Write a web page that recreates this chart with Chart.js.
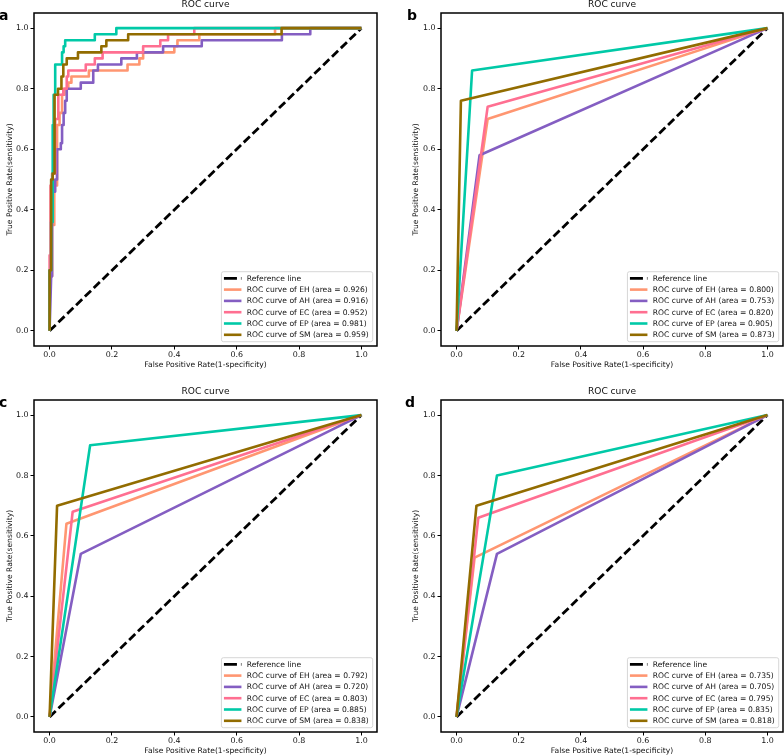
<!DOCTYPE html>
<html>
<head>
<meta charset="utf-8">
<title>ROC curves</title>
<script src="https://cdn.jsdelivr.net/npm/chart.js@4.4.3/dist/chart.umd.min.js"></script>
<style>
  html, body { margin: 0; padding: 0; background: #fff; }
  body { position: relative; width: 784px; height: 756px; overflow: hidden; }
  canvas { position: absolute; }
</style>
</head>
<body>
<canvas id="roc-a" width="392" height="378" style="left:0;top:0"></canvas>
<canvas id="roc-b" width="392" height="378" style="left:392px;top:0"></canvas>
<canvas id="roc-c" width="392" height="378" style="left:0;top:378px"></canvas>
<canvas id="roc-d" width="392" height="378" style="left:392px;top:378px"></canvas>
<script>
const SERIES_NAMES = ["EH", "AH", "EC", "EP", "SM"];
const AXIS_TICKS = [0, 0.2, 0.4, 0.6, 0.8, 1.0];
const REFERENCE_FPR = [0, 1];
const REFERENCE_TPR = [0, 1];
const CHART_TITLE = "ROC curve";
const X_TITLE = "False Positive Rate(1-specificity)";
const Y_TITLE = "True Positive Rate(sensitivity)";

// panel a: step curves
const A_EH_FPR = [0, 0, 0.008, 0.008, 0.015, 0.015, 0.024, 0.024, 0.032, 0.032, 0.04, 0.04, 0.048, 0.048, 0.06, 0.06, 0.07, 0.07, 0.126, 0.126, 0.25, 0.25, 0.288, 0.288, 0.3, 0.3, 0.4, 0.4, 0.41, 0.41, 0.48, 0.48, 0.723, 0.723, 1];
const A_EH_TPR = [0, 0.18, 0.18, 0.35, 0.35, 0.48, 0.48, 0.68, 0.68, 0.72, 0.72, 0.78, 0.78, 0.8, 0.8, 0.82, 0.82, 0.84, 0.84, 0.86, 0.86, 0.88, 0.88, 0.9, 0.9, 0.92, 0.92, 0.94, 0.94, 0.96, 0.96, 0.98, 0.98, 1, 1];
const A_AH_FPR = [0, 0.005, 0.008, 0.008, 0.018, 0.018, 0.024, 0.024, 0.036, 0.036, 0.04, 0.04, 0.045, 0.045, 0.05, 0.05, 0.055, 0.055, 0.1, 0.1, 0.14, 0.14, 0.155, 0.155, 0.23, 0.23, 0.28, 0.28, 0.364, 0.364, 0.488, 0.488, 0.745, 0.745, 0.836, 0.836, 1];
const A_AH_TPR = [0, 0.18, 0.18, 0.46, 0.46, 0.5, 0.5, 0.6, 0.6, 0.62, 0.62, 0.68, 0.68, 0.72, 0.72, 0.76, 0.76, 0.8, 0.8, 0.82, 0.82, 0.86, 0.86, 0.88, 0.88, 0.9, 0.9, 0.92, 0.92, 0.94, 0.94, 0.96, 0.96, 0.98, 0.98, 1, 1];
const A_EC_FPR = [0, 0, 0.003, 0.003, 0.008, 0.008, 0.018, 0.018, 0.028, 0.028, 0.044, 0.044, 0.055, 0.055, 0.06, 0.06, 0.116, 0.116, 0.145, 0.145, 0.17, 0.17, 0.3, 0.3, 0.355, 0.355, 0.38, 0.38, 0.464, 0.464, 1];
const A_EC_TPR = [0, 0.25, 0.25, 0.48, 0.48, 0.52, 0.52, 0.7, 0.7, 0.78, 0.78, 0.8, 0.8, 0.84, 0.84, 0.86, 0.86, 0.88, 0.88, 0.9, 0.9, 0.92, 0.92, 0.94, 0.94, 0.96, 0.96, 0.98, 0.98, 1, 1];
const A_EP_FPR = [0, 0, 0.005, 0.005, 0.01, 0.01, 0.013, 0.013, 0.018, 0.018, 0.04, 0.04, 0.045, 0.045, 0.05, 0.05, 0.145, 0.145, 0.214, 0.214, 1];
const A_EP_TPR = [0, 0.2, 0.2, 0.36, 0.36, 0.68, 0.68, 0.78, 0.78, 0.88, 0.88, 0.92, 0.92, 0.94, 0.94, 0.96, 0.96, 0.98, 0.98, 1, 1];
const A_SM_FPR = [0, 0, 0.005, 0.005, 0.01, 0.01, 0.016, 0.016, 0.027, 0.027, 0.038, 0.038, 0.044, 0.044, 0.055, 0.055, 0.091, 0.091, 0.166, 0.166, 0.182, 0.182, 0.252, 0.252, 0.744, 0.744, 1];
const A_SM_TPR = [0, 0.2, 0.2, 0.5, 0.5, 0.52, 0.52, 0.78, 0.78, 0.8, 0.8, 0.84, 0.84, 0.88, 0.88, 0.9, 0.9, 0.92, 0.92, 0.94, 0.94, 0.96, 0.96, 0.98, 0.98, 1, 1];
const A_AREAS = [0.926, 0.916, 0.952, 0.981, 0.959];

// panels b, c, d: one operating point per model (EH, AH, EC, EP, SM)
const B_FPR = [[0, 0.1, 1], [0, 0.074, 1], [0, 0.1, 1], [0, 0.05, 1], [0, 0.014, 1]];
const B_TPR = [[0, 0.7, 1], [0, 0.58, 1], [0, 0.74, 1], [0, 0.86, 1], [0, 0.76, 1]];
const B_AREAS = [0.800, 0.753, 0.820, 0.905, 0.873];

const C_FPR = [[0, 0.054, 1], [0, 0.1, 1], [0, 0.074, 1], [0, 0.13, 1], [0, 0.024, 1]];
const C_TPR = [[0, 0.64, 1], [0, 0.54, 1], [0, 0.68, 1], [0, 0.9, 1], [0, 0.7, 1]];
const C_AREAS = [0.792, 0.720, 0.803, 0.885, 0.838];

const D_FPR = [[0, 0.058, 1], [0, 0.13, 1], [0, 0.07, 1], [0, 0.13, 1], [0, 0.064, 1]];
const D_TPR = [[0, 0.528, 1], [0, 0.54, 1], [0, 0.66, 1], [0, 0.8, 1], [0, 0.7, 1]];
const D_AREAS = [0.735, 0.705, 0.795, 0.835, 0.818];

const SERIES_COLORS = ["#FF9671", "#845EC2", "#FF6F91", "#00C9A7", "#926C00"];
const FONT_FAMILY = '"DejaVu Sans", sans-serif';
const LABEL_FONT = { family: FONT_FAMILY, size: 7.6 };
const TICK_FONT = { family: FONT_FAMILY, size: 7.9 };

const panels = [
  {
    canvasId: "roc-a", letter: "a", letterX: -1, letterY: 20,
    fpr: [A_EH_FPR, A_AH_FPR, A_EC_FPR, A_EP_FPR, A_SM_FPR],
    tpr: [A_EH_TPR, A_AH_TPR, A_EC_TPR, A_EP_TPR, A_SM_TPR],
    areas: A_AREAS,
    yAxisWidth: 34, padTop: 13, padRight: 15, xAxisHeight: 32, yTitlePad: 5, xTitlePad: 8.4,
  },
  {
    canvasId: "roc-b", letter: "b", letterX: 15, letterY: 20,
    fpr: B_FPR, tpr: B_TPR, areas: B_AREAS,
    yAxisWidth: 49, padTop: 13, padRight: 1, xAxisHeight: 32, yTitlePad: 19.4, xTitlePad: 8.4,
  },
  {
    canvasId: "roc-c", letter: "c", letterX: -1, letterY: 29,
    fpr: C_FPR, tpr: C_TPR, areas: C_AREAS,
    yAxisWidth: 34, padTop: 22, padRight: 15, xAxisHeight: 24, yTitlePad: 5, xTitlePad: 0.4,
  },
  {
    canvasId: "roc-d", letter: "d", letterX: 13, letterY: 29,
    fpr: D_FPR, tpr: D_TPR, areas: D_AREAS,
    yAxisWidth: 49, padTop: 22, padRight: 1, xAxisHeight: 24, yTitlePad: 19.4, xTitlePad: 0.4,
  },
];

function toPoints(fpr, tpr) {
  return fpr.map((x, i) => ({ x, y: tpr[i] }));
}

function setAxisTicks(scale) {
  scale.ticks = AXIS_TICKS.map((value) => ({ value }));
}

function buildScale(axis, panel) {
  const horizontal = axis === "x";
  return {
    type: "linear",
    position: horizontal ? "bottom" : "left",
    min: -0.05,
    max: 1.05,
    afterBuildTicks: setAxisTicks,
    afterFit(scale) {
      if (horizontal) {
        scale.height = panel.xAxisHeight;
      } else {
        scale.width = panel.yAxisWidth;
      }
    },
    grid: {
      display: true,
      drawOnChartArea: false,
      drawTicks: true,
      tickLength: 3.5,
      tickWidth: 1,
      tickColor: "#000",
    },
    border: { display: false },
    ticks: {
      color: "#111",
      font: TICK_FONT,
      padding: horizontal ? 1 : 2,
      autoSkip: false,
      maxRotation: 0,
      callback: (value) => Number(value).toFixed(1),
    },
    title: {
      display: true,
      text: horizontal ? X_TITLE : Y_TITLE,
      color: "#111",
      font: LABEL_FONT,
      padding: horizontal ? { top: 0, bottom: panel.xTitlePad } : { top: panel.yTitlePad, bottom: 0 },
    },
  };
}

function drawLegend(ctx, area, panel) {
  const rowHeight = 11.3;
  const handleStart = 2.5;
  const handleEnd = 20;
  const textStart = 25.3;
  const labels = ["Reference line"].concat(
    SERIES_NAMES.map((name, i) => `ROC curve of ${name} (area = ${panel.areas[i].toFixed(3)})`)
  );

  ctx.save();
  ctx.font = `7.6px ${FONT_FAMILY}`;
  const textWidth = Math.max(...labels.map((label) => ctx.measureText(label).width));
  const boxWidth = textStart + textWidth + 4;
  const boxHeight = 70;
  const boxLeft = area.right - 4.3 - boxWidth;
  const boxTop = area.bottom - 4.3 - boxHeight;

  ctx.beginPath();
  ctx.roundRect(boxLeft, boxTop, boxWidth, boxHeight, 2);
  ctx.fillStyle = "rgba(255, 255, 255, 0.8)";
  ctx.fill();
  ctx.strokeStyle = "rgba(204, 204, 204, 0.8)";
  ctx.lineWidth = 1;
  ctx.stroke();

  labels.forEach((label, i) => {
    const rowY = boxTop + 6.6 + i * rowHeight;
    ctx.beginPath();
    ctx.moveTo(boxLeft + handleStart, rowY);
    ctx.lineTo(boxLeft + handleEnd, rowY);
    ctx.lineCap = "butt";
    if (i === 0) {
      ctx.strokeStyle = "#000";
      ctx.lineWidth = 2.8;
      ctx.setLineDash([13, 4]);
    } else {
      ctx.strokeStyle = SERIES_COLORS[i - 1];
      ctx.lineWidth = 2.6;
      ctx.setLineDash([]);
    }
    ctx.stroke();
    ctx.setLineDash([]);
    ctx.fillStyle = "#111";
    ctx.textAlign = "left";
    ctx.textBaseline = "middle";
    ctx.fillText(label, boxLeft + textStart, rowY + 0.5);
  });
  ctx.restore();
}

const panelDecor = {
  id: "panelDecor",
  afterDatasetsDraw(chart, args, options) {
    drawLegend(chart.ctx, chart.chartArea, options.panel);
  },
  afterDraw(chart, args, options) {
    const { ctx, chartArea } = chart;
    const panel = options.panel;
    ctx.save();
    ctx.strokeStyle = "#000";
    ctx.lineWidth = 1.5;
    ctx.strokeRect(chartArea.left, chartArea.top, chartArea.right - chartArea.left, chartArea.bottom - chartArea.top);

    ctx.fillStyle = "#111";
    ctx.font = `9.1px ${FONT_FAMILY}`;
    ctx.textAlign = "center";
    ctx.textBaseline = "middle";
    ctx.fillText(CHART_TITLE, (chartArea.left + chartArea.right) / 2, chartArea.top - 8.3);

    ctx.fillStyle = "#000";
    ctx.font = `bold 14px ${FONT_FAMILY}`;
    ctx.textAlign = "left";
    ctx.textBaseline = "alphabetic";
    ctx.fillText(panel.letter, panel.letterX, panel.letterY);
    ctx.restore();
  },
};

function renderPanel(panel) {
  const canvas = document.getElementById(panel.canvasId);
  const datasets = [
    {
      label: "Reference line",
      data: toPoints(REFERENCE_FPR, REFERENCE_TPR),
      borderColor: "#000",
      borderWidth: 2.8,
      borderDash: [8.5, 3.8],
      order: 10,
    },
  ].concat(
    SERIES_NAMES.map((name, i) => ({
      label: `ROC curve of ${name}`,
      data: toPoints(panel.fpr[i], panel.tpr[i]),
      borderColor: SERIES_COLORS[i],
      borderWidth: 2.6,
      borderJoinStyle: "round",
      order: SERIES_NAMES.length - i,
    }))
  );

  return new Chart(canvas, {
    type: "line",
    data: { datasets },
    options: {
      responsive: false,
      animation: false,
      devicePixelRatio: 1,
      elements: {
        line: { tension: 0, fill: false },
        point: { radius: 0, hoverRadius: 0 },
      },
      layout: { padding: { top: panel.padTop, right: panel.padRight, left: 0, bottom: 0 } },
      scales: {
        x: buildScale("x", panel),
        y: buildScale("y", panel),
      },
      plugins: {
        legend: { display: false },
        tooltip: { enabled: false },
        title: { display: false },
        panelDecor: { panel },
      },
    },
    plugins: [panelDecor],
  });
}

panels.forEach(renderPanel);
</script>
</body>
</html>
